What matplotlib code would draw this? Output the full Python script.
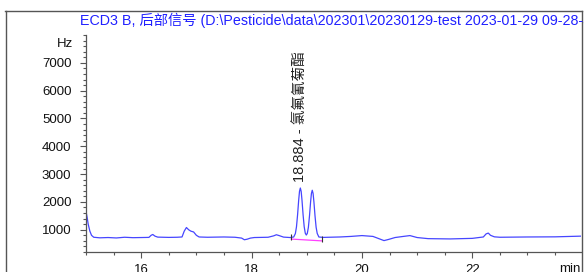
import matplotlib.pyplot as plt
from matplotlib.lines import Line2D
from matplotlib.ticker import MultipleLocator

# chromatogram trace (time in min, signal in Hz)
time_min = [15.00, 15.02, 15.04, 15.07, 15.10, 15.14, 15.25, 15.40, 15.55, 15.70,
            15.85, 16.00, 16.14, 16.18, 16.21, 16.25, 16.30, 16.40, 16.50, 16.65,
            16.74, 16.78, 16.82, 16.86, 16.90, 16.95, 17.00, 17.05, 17.20, 17.50,
            17.70, 17.82, 17.87, 17.92, 17.98, 18.05, 18.30, 18.40, 18.45, 18.50,
            18.58, 18.70,
            18.764, 18.794, 18.814, 18.834, 18.854, 18.869, 18.884, 18.899, 18.914,
            18.934, 18.954, 18.974, 18.992, 19.01, 19.03, 19.05, 19.07, 19.085,
            19.10, 19.115, 19.13, 19.15, 19.17, 19.19, 19.22,
            19.30, 19.60, 19.80, 20.00, 20.20, 20.32, 20.40, 20.48, 20.60, 20.75,
            20.87, 21.00, 21.20, 21.60, 22.00, 22.20, 22.25, 22.29, 22.33, 22.40,
            22.50, 23.00, 23.50, 23.97]
signal_hz = [1660, 1450, 1200, 950, 800, 730, 710, 720, 705, 730,
             715, 720, 725, 800, 830, 770, 735, 730, 725, 730,
             740, 950, 1080, 1000, 950, 920, 800, 740, 730, 740,
             730, 700, 640, 660, 700, 720, 730, 780, 820, 790,
             735, 720,
             740, 862, 1105, 1535, 2064, 2380, 2500, 2380, 2064,
             1535, 1107, 874, 810, 867, 1089, 1499, 2003, 2304,
             2420, 2304, 2003, 1499, 1089, 867, 739,
             725, 740, 760, 790, 760, 670, 610, 650, 720, 760,
             790, 720, 680, 670, 690, 740, 850, 880, 800, 745,
             730, 740, 745, 770]

# integration baseline under the peak pair
base_t = [18.72, 19.27]
base_hz = [665, 600]

peak_rt = 18.884
peak_hz = 2500
peak_name = "氯氟氰菊酯"

title = r"ECD3 B, 后部信号 (D:\Pesticide\data\202301\20230129-test 2023-01-29 09-28-51\20230129-test.D)"

fonts = ['Liberation Sans', 'Noto Sans CJK SC', 'DejaVu Sans']
plt.rcParams['font.family'] = fonts

fig = plt.figure(figsize=(5.84, 2.72), dpi=100)
ax = fig.add_axes([86 / 584, 1 - 252 / 272, 495 / 584, 217 / 272])

ax.plot(time_min, signal_hz, color='#4646ff', lw=0.9)
ax.plot(base_t, base_hz, color='#ff40ff', lw=0.9)
ax.plot(base_t, [b + 60 for b in base_hz], ls='none', marker='|', ms=5,
        mew=0.8, color='#333333')

ax.annotate(f"{peak_rt:.3f} - {peak_name}", xy=(peak_rt, peak_hz),
            xytext=(0, 4), textcoords='offset points', rotation=90,
            ha='center', va='bottom', fontsize=10.5, color='#222222')

ax.set_xlim(15.0, 23.97)
ax.set_ylim(200, 8000)
ax.xaxis.set_minor_locator(MultipleLocator(0.5))
ax.yaxis.set_minor_locator(MultipleLocator(200))
ax.set_xticks([16, 18, 20, 22])
ax.set_yticks([1000, 2000, 3000, 4000, 5000, 6000, 7000])

for side in ['top', 'right']:
    ax.spines[side].set_visible(False)
for side in ['left', 'bottom']:
    ax.spines[side].set_color('#555555')
    ax.spines[side].set_linewidth(0.9)

ax.tick_params(which='major', length=4.5, width=0.8, color='#555555',
               labelsize=9.5, labelcolor='#111111')
ax.tick_params(which='minor', length=2.5, width=0.8, color='#555555')
ax.tick_params(axis='y', which='major', pad=6)
ax.tick_params(axis='x', which='major', pad=4)

ax.text(-0.026, 0.959, "Hz", transform=ax.transAxes, ha='right', va='center',
        fontsize=9.5, color='#111111')
ax.text(1.0, -0.05, "min", transform=ax.transAxes, ha='right', va='top',
        fontsize=9.5, color='#111111')

# outer frame around the plot area
fig.add_artist(Line2D([5 / 584, 582 / 584], [1 - 11 / 272] * 2,
                      transform=fig.transFigure, color='#555555', lw=1))
fig.add_artist(Line2D([6 / 584] * 2, [0, 1 - 11 / 272],
                      transform=fig.transFigure, color='#555555', lw=1))
fig.add_artist(Line2D([581.5 / 584] * 2, [0, 1 - 11 / 272],
                      transform=fig.transFigure, color='#555555', lw=1))

fig.text(80 / 584, 1 - 20 / 272, title, ha='left', va='center',
         fontsize=10.3, color='#2020ff')

fig.savefig('out.png', dpi=100)
